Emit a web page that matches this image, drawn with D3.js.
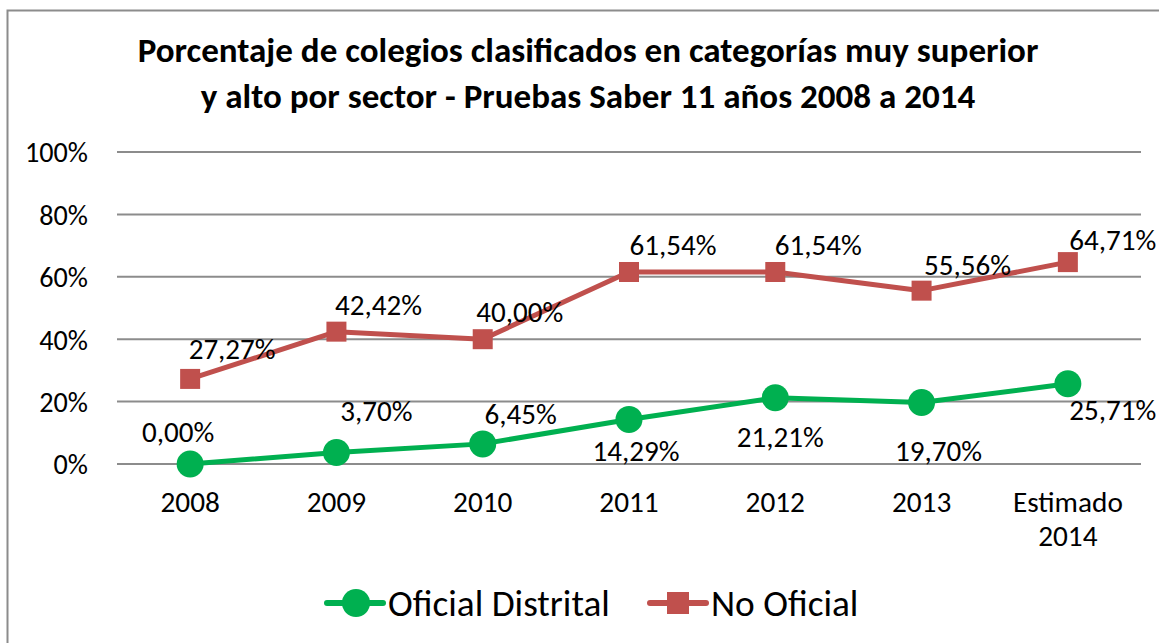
<!DOCTYPE html>
<html><head><meta charset="utf-8">
<script src="https://cdn.jsdelivr.net/npm/d3@7/dist/d3.min.js"></script>
<style>
html,body{margin:0;padding:0;background:#fff;}
svg{display:block;font-family:Carlito,Calibri,Lato,sans-serif;}
</style></head>
<body>
<svg id="chart" width="1159" height="643"></svg>
<script>
// ---- data ----
const categories = ["2008","2009","2010","2011","2012","2013","Estimado 2014"];
const oficialDistrital = [0.00, 3.70, 6.45, 14.29, 21.21, 19.70, 25.71];
const noOficial = [27.27, 42.42, 40.00, 61.54, 61.54, 55.56, 64.71];
const yTicks = [0, 20, 40, 60, 80, 100];
const titleLines = ["Porcentaje de colegios clasificados en categorías muy superior",
                    "y alto por sector - Pruebas Saber 11 años 2008 a 2014"];
const seriesNames = ["Oficial Distrital", "No Oficial"];

// ---- layout ----
const W = 1159, H = 643;
const FONT = "Carlito,Calibri,Lato,sans-serif";
const plot = {left: 117, right: 1141, top: 152, bottom: 464};
const svg = d3.select("#chart");

// font size that makes a sample string reach a given width
function fitSize(sample, targetW, weight) {
  const t = svg.append("text").attr("font-family", FONT).attr("font-size", 100)
    .attr("font-weight", weight || "normal").text(sample);
  const w = t.node().getComputedTextLength();
  t.remove();
  return 100 * targetW / w;
}
const titleSize = fitSize(titleLines[0], 901, "bold");
const tickSize = fitSize("100%", 63);
const labelSize = fitSize("27,27%", 87);
const xSize = fitSize("Estimado", 110);
const legendSize = fitSize(seriesNames[0], 222);

svg.append("rect").attr("x", 7.5).attr("y", 10.5).attr("width", W + 20).attr("height", H + 20)
  .attr("fill", "#fff").attr("stroke", "#8c8c8c").attr("stroke-width", 2);

const x = d3.scaleBand().domain(categories).range([plot.left, plot.right]);
const y = d3.scaleLinear().domain([0, 100]).range([plot.bottom, plot.top]);
const cx = c => x(c) + x.bandwidth() / 2;

// title
svg.append("g").selectAll("text").data(titleLines).join("text")
  .attr("x", 588).attr("y", (d, i) => 62 + i * 46)
  .attr("text-anchor", "middle").attr("font-weight", "bold").attr("font-size", titleSize)
  .attr("fill", "#000").text(d => d);

// gridlines
svg.append("g").selectAll("line").data(yTicks).join("line")
  .attr("x1", plot.left).attr("x2", plot.right)
  .attr("y1", d => y(d)).attr("y2", d => y(d))
  .attr("stroke", "#8c8c8c").attr("stroke-width", 2);

// y axis labels
const yAxis = d3.axisLeft(y).tickValues(yTicks).tickSize(0).tickPadding(0).tickFormat(d => d + "%");
const yg = svg.append("g").attr("transform", `translate(88,0)`).call(yAxis)
  .attr("font-family", FONT).attr("font-size", tickSize);
yg.select(".domain").remove();
yg.selectAll("text").attr("fill", "#000").attr("dy", "0.35em");

// x axis labels
const xAxis = d3.axisBottom(x).tickSize(0).tickPadding(0).tickFormat(() => "");
const xg = svg.append("g").attr("transform", `translate(0,${plot.bottom})`).call(xAxis)
  .attr("font-family", FONT).attr("font-size", xSize);
xg.select(".domain").remove();
xg.selectAll(".tick").each(function(d) {
  const words = d.split(" ");
  const t = d3.select(this).append("text").attr("text-anchor", "middle").attr("fill", "#000");
  words.forEach((w, i) => t.append("tspan").attr("x", 0).attr("y", 48 + i * 34).text(w));
});

const green = "#00b050", red = "#c0504d";
const line = d3.line().x((d, i) => cx(categories[i])).y(d => y(d));
const fmt = v => v.toFixed(2).replace(".", ",") + "%";

// label nudges (layout only)
const greenNudge = [[-12,-32],[40,-42],[38,-30],[7,31],[5,39],[17,48],[45,26]];
const redNudge = [[42,-30],[42,-27],[37,-27],[44,-27],[43,-27],[46,-26],[45,-22]];

// red series
svg.append("path").datum(noOficial).attr("d", line).attr("fill", "none")
  .attr("stroke", red).attr("stroke-width", 5).attr("stroke-linejoin", "round");
svg.append("g").selectAll("rect").data(noOficial).join("rect")
  .attr("x", (d, i) => cx(categories[i]) - 10).attr("y", d => y(d) - 10)
  .attr("width", 20).attr("height", 20).attr("fill", red);

// green series
svg.append("path").datum(oficialDistrital).attr("d", line).attr("fill", "none")
  .attr("stroke", green).attr("stroke-width", 5).attr("stroke-linejoin", "round");
svg.append("g").selectAll("circle").data(oficialDistrital).join("circle")
  .attr("cx", (d, i) => cx(categories[i])).attr("cy", d => y(d)).attr("r", 13.5).attr("fill", green);

// labels
svg.append("g").selectAll("text").data(noOficial).join("text")
  .attr("x", (d, i) => cx(categories[i]) + redNudge[i][0]).attr("y", (d, i) => y(d) + redNudge[i][1])
  .attr("dy", "0.35em").attr("text-anchor", "middle").attr("font-size", labelSize).attr("fill", "#000").text(fmt);
svg.append("g").selectAll("text").data(oficialDistrital).join("text")
  .attr("x", (d, i) => cx(categories[i]) + greenNudge[i][0]).attr("y", (d, i) => y(d) + greenNudge[i][1])
  .attr("dy", "0.35em").attr("text-anchor", "middle").attr("font-size", labelSize).attr("fill", "#000").text(fmt);

// legend
const legend = svg.append("g");
const legendItems = [
  {name: seriesNames[0], color: green, x0: 327, shape: "circle"},
  {name: seriesNames[1], color: red, x0: 650, shape: "rect"}
];
const ly = 603;
legendItems.forEach(it => {
  legend.append("line").attr("x1", it.x0).attr("x2", it.x0 + 56).attr("y1", ly).attr("y2", ly)
    .attr("stroke", it.color).attr("stroke-width", 6).attr("stroke-linecap", "round");
  if (it.shape === "circle") legend.append("circle").attr("cx", it.x0 + 29).attr("cy", ly).attr("r", 14).attr("fill", it.color);
  else legend.append("rect").attr("x", it.x0 + 17).attr("y", ly - 11).attr("width", 22).attr("height", 22).attr("fill", it.color);
  legend.append("text").attr("x", it.x0 + 61).attr("y", ly).attr("dy", "0.35em")
    .attr("font-size", legendSize).attr("fill", "#000").text(it.name);
});
</script>
</body></html>
